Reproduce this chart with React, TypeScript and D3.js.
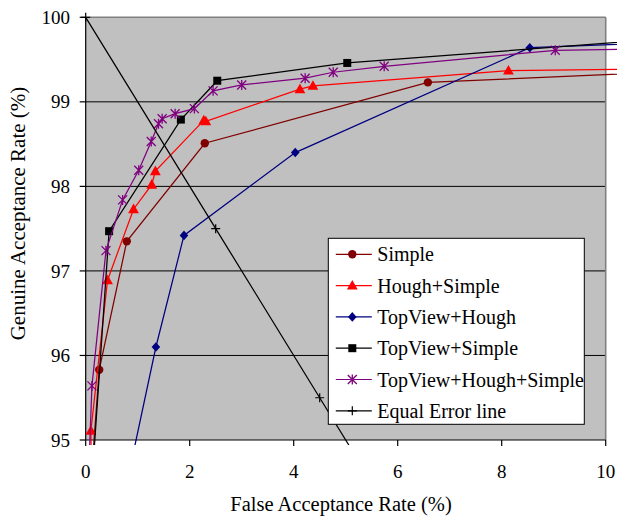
import React from "react";
import * as d3 from "d3";

// ---- data ----
const seriesNames = [
  "Simple",
  "Hough+Simple",
  "TopView+Hough",
  "TopView+Simple",
  "TopView+Hough+Simple",
  "Equal Error line",
];

const simpleX = [0.1, 0.26, 0.79, 2.29, 6.58, 11];
const simpleY = [94.5, 95.83, 97.35, 98.51, 99.23, 99.35];

const houghSimpleX = [0.11, 0.1, 0.42, 0.92, 1.27, 1.34, 2.27, 2.31, 4.12, 4.37, 8.13, 11];
const houghSimpleY = [94.5, 95.11, 96.89, 97.73, 98.02, 98.18, 98.78, 98.77, 99.15, 99.19, 99.37, 99.39];

const topHoughX = [0.83, 1.35, 1.89, 4.03, 8.54, 11];
const topHoughY = [94.6, 96.1, 97.42, 98.4, 99.64, 99.7];

const topSimpleX = [0.12, 0.45, 1.83, 2.53, 5.03, 11];
const topSimpleY = [94.5, 97.47, 98.79, 99.25, 99.46, 99.74];

const tvhsX = [0.05, 0.12, 0.39, 0.71, 1.02, 1.26, 1.4, 1.47, 1.72, 2.09, 2.45, 3.0, 4.22, 4.76, 5.74, 9.03, 11];
const tvhsY = [94.5, 95.64, 97.24, 97.84, 98.19, 98.53, 98.74, 98.8, 98.86, 98.92, 99.13, 99.2, 99.28, 99.35, 99.42, 99.61, 99.63];

const equalX = [0, 2.5, 4.5, 5.5];
const equalY = [100, 97.5, 95.5, 94.5];

const xTicks = [0, 2, 4, 6, 8, 10];
const yTicks = [95, 96, 97, 98, 99, 100];

const xTitle = "False Acceptance Rate (%)";
const yTitle = "Genuine Acceptance Rate (%)";

// ---- styling ----
const W = 617;
const H = 519;
const FONT = "Liberation Serif, Times New Roman, serif";
const colors = ["#800000", "#FF0000", "#000080", "#000000", "#800080", "#000000"];
const markers = ["circle", "triangle", "diamond", "square", "asterisk", "plus"];

const x = d3.scaleLinear().domain([0, 10]).range([85.7, 605.7]);
const y = d3.scaleLinear().domain([95, 100]).range([440, 17.3]);

function Marker({ type, cx, cy, color }: { type: string; cx: number; cy: number; color: string }) {
  switch (type) {
    case "circle":
      return <circle cx={cx} cy={cy} r={4.2} fill={color} />;
    case "triangle":
      return <path d={`M${cx},${cy - 5.6}L${cx + 5.4},${cy + 4}L${cx - 5.4},${cy + 4}Z`} fill={color} />;
    case "diamond":
      return <path d={`M${cx},${cy - 4.8}L${cx + 4.3},${cy}L${cx},${cy + 4.8}L${cx - 4.3},${cy}Z`} fill={color} />;
    case "square":
      return <rect x={cx - 4} y={cy - 4} width={8} height={8} fill={color} />;
    case "asterisk":
      return (
        <path
          d={`M${cx},${cy - 5}V${cy + 5}M${cx - 4.5},${cy - 4.5}L${cx + 4.5},${cy + 4.5}M${cx - 4.5},${cy + 4.5}L${cx + 4.5},${cy - 4.5}`}
          stroke={color}
          strokeWidth={1.3}
          fill="none"
        />
      );
    case "plus":
      return (
        <path d={`M${cx - 4.5},${cy}H${cx + 4.5}M${cx},${cy - 4.5}V${cy + 4.5}`} stroke={color} strokeWidth={1.2} fill="none" />
      );
    default:
      return null;
  }
}

export default function App() {
  const series = [
    { xs: simpleX, ys: simpleY },
    { xs: houghSimpleX, ys: houghSimpleY },
    { xs: topHoughX, ys: topHoughY },
    { xs: topSimpleX, ys: topSimpleY },
    { xs: tvhsX, ys: tvhsY },
    { xs: equalX, ys: equalY },
  ];
  const line = d3
    .line<[number, number]>()
    .x((d) => x(d[0]))
    .y((d) => y(d[1]));

  const legX = 328.3;
  const legY = 238.3;
  const legW = 256;
  const legH = 186;
  const rowH = 31.3;

  return (
    <svg
      width={W}
      height={H}
      style={{ position: "absolute", left: 0, top: 0, background: "#fff", fontFamily: FONT }}
    >
      <defs>
        <clipPath id="plotclip">
          <rect x={80} y={10} width={W - 80} height={435} />
        </clipPath>
      </defs>
      {/* plot area */}
      <rect x={x(0)} y={y(100)} width={x(10) - x(0)} height={y(95) - y(100)} fill="#C0C0C0" />
      {/* gridlines */}
      {yTicks
        .filter((t) => t !== 95 && t !== 100)
        .map((t) => (
          <line key={t} x1={x(0)} x2={x(10)} y1={y(t)} y2={y(t)} stroke="#000" strokeWidth={1} />
        ))}
      {/* borders */}
      <line x1={x(0)} x2={x(10)} y1={y(100)} y2={y(100)} stroke="#808080" strokeWidth={1.6} />
      <line x1={x(10)} x2={x(10)} y1={y(100)} y2={y(95)} stroke="#808080" strokeWidth={1.6} />
      {/* axes */}
      <line x1={x(0)} x2={x(0)} y1={y(100)} y2={y(95)} stroke="#000" strokeWidth={1.2} />
      <line x1={x(0)} x2={x(10)} y1={y(95)} y2={y(95)} stroke="#000" strokeWidth={1.2} />
      {yTicks.map((t) => (
        <g key={"yt" + t}>
          <line x1={x(0) - 6} x2={x(0)} y1={y(t)} y2={y(t)} stroke="#000" strokeWidth={1.2} />
          <text x={70} y={y(t)} dy="0.35em" textAnchor="end" fontSize={19} style={{ fontFamily: FONT }}>
            {t}
          </text>
        </g>
      ))}
      {xTicks.map((t) => (
        <g key={"xt" + t}>
          <line x1={x(t)} x2={x(t)} y1={y(95)} y2={y(95) + 6} stroke="#000" strokeWidth={1.2} />
          <text x={x(t)} y={478} textAnchor="middle" fontSize={19} style={{ fontFamily: FONT }}>
            {t}
          </text>
        </g>
      ))}
      {/* titles */}
      <text x={341} y={511} textAnchor="middle" fontSize={20.5} style={{ fontFamily: FONT }}>
        {xTitle}
      </text>
      <text
        transform={`translate(25,${213.5}) rotate(-90)`}
        textAnchor="middle"
        fontSize={21}
        style={{ fontFamily: FONT }}
      >
        {yTitle}
      </text>
      {/* series */}
      <g clipPath="url(#plotclip)">
        {series.map((s, i) => {
          const pts = s.xs.map((v, j) => [v, s.ys[j]] as [number, number]);
          return (
            <g key={"s" + i}>
              <path d={line(pts) || ""} fill="none" stroke={colors[i]} strokeWidth={1.25} />
              {pts.map((p, j) => (
                <Marker key={j} type={markers[i]} cx={x(p[0])} cy={y(p[1])} color={colors[i]} />
              ))}
            </g>
          );
        })}
      </g>
      {/* legend */}
      <rect x={legX} y={legY} width={legW} height={legH} fill="#fff" stroke="#000" strokeWidth={1} />
      {seriesNames.map((name, i) => {
        const cy = legY + 16 + i * rowH;
        return (
          <g key={"l" + i}>
            <line x1={legX + 7.5} x2={legX + 43.5} y1={cy} y2={cy} stroke={colors[i]} strokeWidth={1.2} />
            <Marker type={markers[i]} cx={legX + 24} cy={cy} color={colors[i]} />
            <text x={legX + 49} y={cy} dy="0.35em" fontSize={20} style={{ fontFamily: FONT }}>
              {name}
            </text>
          </g>
        );
      })}
    </svg>
  );
}
